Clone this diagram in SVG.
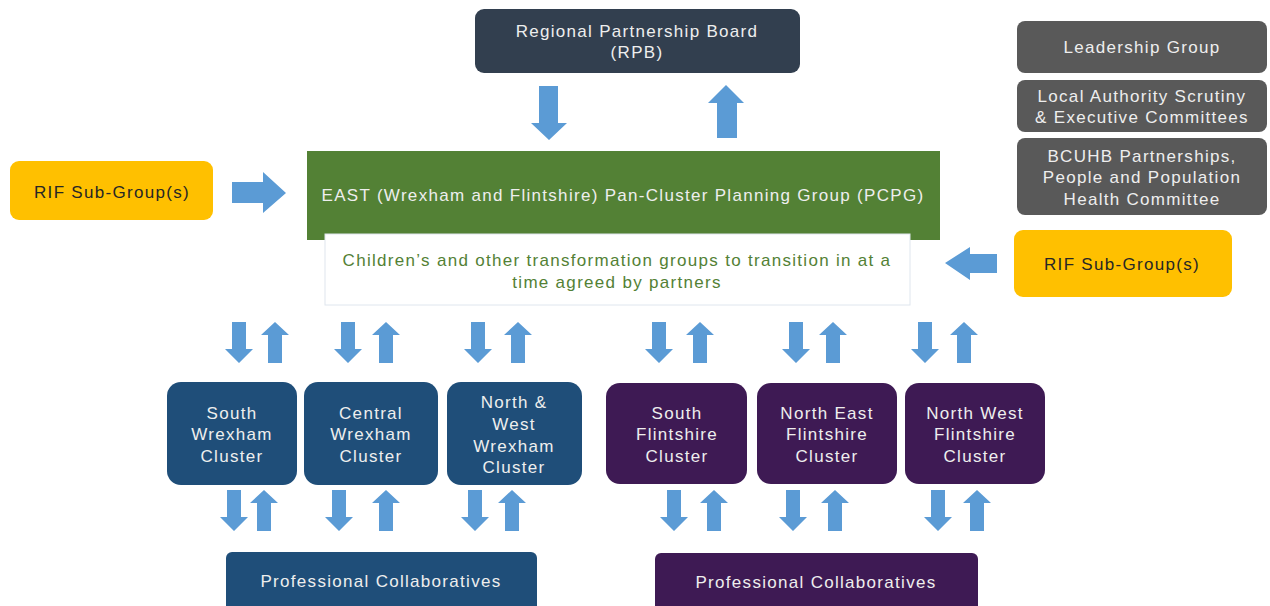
<svg xmlns="http://www.w3.org/2000/svg" width="1270" height="606" viewBox="0 0 1270 606">
<style>
text{font-family:"Liberation Sans",Arial,sans-serif;font-size:17px;text-anchor:middle;letter-spacing:1.3px}
.lt{fill:#eeeeee}
.dk{fill:#262626}
.gt{fill:#538135}
.arr{fill:#5B9BD5}
</style>
<defs>
<path id="dn" d="M-7,0 H7 V27 H14 L0,41 L-14,27 H-7 Z"/>
<path id="up" d="M0,0 L14,13 H7 V41 H-7 V13 H-14 Z"/>
</defs>
<rect width="1270" height="606" fill="#ffffff"/>

<g id="rpb">
<rect x="475" y="9" width="325" height="64" rx="9" fill="#323F4F"/>
<text class="lt" x="637" y="37">Regional Partnership Board</text>
<text class="lt" x="637" y="58">(RPB)</text>
</g>

<g id="leadership">
<rect x="1017" y="21" width="250" height="52" rx="8" fill="#595959"/>
<text class="lt" x="1142" y="53">Leadership Group</text>
</g>
<g id="la-scrutiny">
<rect x="1017" y="80" width="250" height="52" rx="8" fill="#595959"/>
<text class="lt" x="1142" y="102">Local Authority Scrutiny</text>
<text class="lt" x="1142" y="123">&amp; Executive Committees</text>
</g>
<g id="bcuhb">
<rect x="1017" y="138" width="250" height="77" rx="8" fill="#595959"/>
<text class="lt" x="1142" y="162">BCUHB Partnerships,</text>
<text class="lt" x="1142" y="183">People and Population</text>
<text class="lt" x="1142" y="205">Health Committee</text>
</g>

<g id="rif-left">
<rect x="10" y="161" width="203" height="59" rx="9" fill="#FFC000"/>
<text class="dk" x="112" y="198">RIF Sub-Group(s)</text>
</g>
<g id="rif-right">
<rect x="1014" y="230" width="218" height="67" rx="9" fill="#FFC000"/>
<text class="dk" x="1122" y="270">RIF Sub-Group(s)</text>
</g>

<g id="pcpg">
<rect x="307" y="151" width="633" height="89" fill="#538135"/>
<text class="lt" x="623" y="201">EAST (Wrexham and Flintshire) Pan-Cluster Planning Group (PCPG)</text>
</g>
<g id="children">
<rect x="325" y="234" width="585" height="71" fill="#ffffff" stroke="#dfe6ee" stroke-width="1"/>
<text class="gt" x="617" y="266">Children’s and other transformation groups to transition in at a</text>
<text class="gt" x="617" y="288">time agreed by partners</text>
</g>

<g id="south-wrexham">
<rect x="167" y="382" width="130" height="103" rx="14" fill="#1F4E79"/>
<text class="lt" x="232" y="419">South</text>
<text class="lt" x="232" y="440">Wrexham</text>
<text class="lt" x="232" y="462">Cluster</text>
</g>
<g id="central-wrexham">
<rect x="304" y="382" width="134" height="103" rx="14" fill="#1F4E79"/>
<text class="lt" x="371" y="419">Central</text>
<text class="lt" x="371" y="440">Wrexham</text>
<text class="lt" x="371" y="462">Cluster</text>
</g>
<g id="nw-wrexham">
<rect x="447" y="382" width="135" height="103" rx="14" fill="#1F4E79"/>
<text class="lt" x="514" y="408">North &amp;</text>
<text class="lt" x="514" y="430">West</text>
<text class="lt" x="514" y="452">Wrexham</text>
<text class="lt" x="514" y="473">Cluster</text>
</g>
<g id="south-flintshire">
<rect x="606" y="383" width="141" height="101" rx="14" fill="#3E1A54"/>
<text class="lt" x="677" y="419">South</text>
<text class="lt" x="677" y="440">Flintshire</text>
<text class="lt" x="677" y="462">Cluster</text>
</g>
<g id="ne-flintshire">
<rect x="757" y="383" width="140" height="101" rx="14" fill="#3E1A54"/>
<text class="lt" x="827" y="419">North East</text>
<text class="lt" x="827" y="440">Flintshire</text>
<text class="lt" x="827" y="462">Cluster</text>
</g>
<g id="nw-flintshire">
<rect x="905" y="383" width="140" height="101" rx="14" fill="#3E1A54"/>
<text class="lt" x="975" y="419">North West</text>
<text class="lt" x="975" y="440">Flintshire</text>
<text class="lt" x="975" y="462">Cluster</text>
</g>

<g id="pc-wrexham">
<rect x="226" y="552" width="311" height="60" rx="6" fill="#1F4E79"/>
<text class="lt" x="381" y="587">Professional Collaboratives</text>
</g>
<g id="pc-flintshire">
<rect x="655" y="553" width="323" height="60" rx="6" fill="#3E1A54"/>
<text class="lt" x="816" y="588">Professional Collaboratives</text>
</g>

<g id="connectors" class="arr">
<path d="M539,86 H558 V123 H567 L549,140 L531,123 H539 Z"/>
<path d="M726,85 L744,103 H737 V138 H717 V103 H708 Z"/>
<path d="M232,182 H263 V172 L286,193 L263,213 V203 H232 Z"/>
<path d="M997,254 H970 V247 L945,263 L970,280 V273 H997 Z"/>

<use href="#dn" x="239" y="322"/><use href="#up" x="275" y="322"/>
<use href="#dn" x="348" y="322"/><use href="#up" x="386" y="322"/>
<use href="#dn" x="478" y="322"/><use href="#up" x="518" y="322"/>
<use href="#dn" x="659" y="322"/><use href="#up" x="700" y="322"/>
<use href="#dn" x="796" y="322"/><use href="#up" x="833" y="322"/>
<use href="#dn" x="925" y="322"/><use href="#up" x="964" y="322"/>

<use href="#dn" x="234" y="490"/><use href="#up" x="264" y="490"/>
<use href="#dn" x="339" y="490"/><use href="#up" x="386" y="490"/>
<use href="#dn" x="475" y="490"/><use href="#up" x="512" y="490"/>
<use href="#dn" x="674" y="490"/><use href="#up" x="714" y="490"/>
<use href="#dn" x="793" y="490"/><use href="#up" x="835" y="490"/>
<use href="#dn" x="938" y="490"/><use href="#up" x="977" y="490"/>
</g>
</svg>
